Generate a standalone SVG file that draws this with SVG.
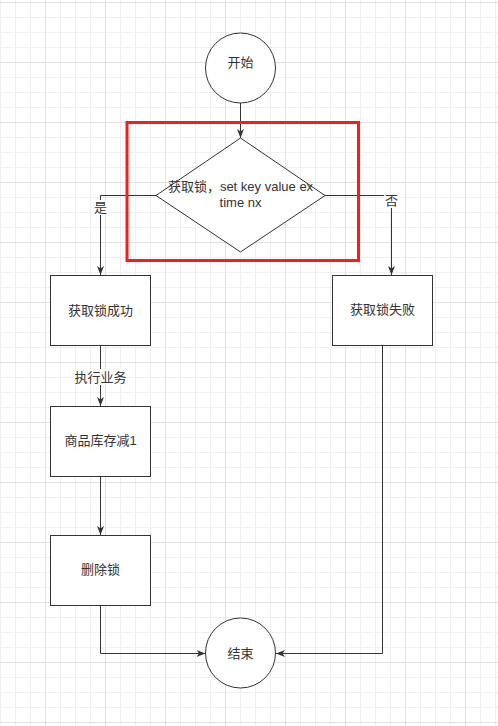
<svg xmlns="http://www.w3.org/2000/svg" width="498" height="726" viewBox="0 0 498 726">
<style>
.shape{fill:#ffffff;stroke:#333333;stroke-width:1}
.edge{fill:none;stroke:#333333;stroke-width:1}
.t{font-family:"Liberation Sans","Noto Sans CJK SC",sans-serif;font-size:13px;fill:#333333;text-anchor:middle}
.lblbg{fill:#ffffff}
</style>
<defs>
<pattern id="minor" width="15" height="15" patternUnits="userSpaceOnUse" x="0" y="2">
<path d="M0.5 0 V15 M0 0.5 H15" fill="none" stroke="#efefef" stroke-width="1"/>
</pattern>
<pattern id="major" width="60" height="60" patternUnits="userSpaceOnUse" x="45" y="2">
<path d="M0.5 0 V60 M0 0.5 H60" fill="none" stroke="#e2e2e2" stroke-width="1"/>
</pattern>
<marker id="arr" markerUnits="userSpaceOnUse" markerWidth="10" markerHeight="8" refX="9" refY="3.5" orient="auto" viewBox="0 0 10 8">
<path d="M0,0 L9,3.5 L0,7 L2.5,3.5 Z" fill="#333333" stroke="none"/>
</marker>
</defs>
<rect width="498" height="726" fill="#ffffff"/>
<rect width="498" height="726" fill="url(#minor)"/>
<rect width="498" height="726" fill="url(#major)"/>

<g id="connectors">
<path class="edge" d="M240.5 103 V138" marker-end="url(#arr)"/>
<path class="edge" d="M156 195.5 H100.5 V275" marker-end="url(#arr)"/>
<path class="edge" d="M325 195.5 H391.5 V275" marker-end="url(#arr)"/>
<path class="edge" d="M100.5 345 V406" marker-end="url(#arr)"/>
<path class="edge" d="M100.5 476 V535" marker-end="url(#arr)"/>
<path class="edge" d="M100.5 605 V653.5 H205.5" marker-end="url(#arr)"/>
<path class="edge" d="M382.5 345 V653.5 H276" marker-end="url(#arr)"/>
<rect class="lblbg" x="93" y="200" width="15" height="15"/>
<text class="t" x="100.5" y="212">是</text>
<rect class="lblbg" x="384" y="193" width="15" height="15"/>
<text class="t" x="391.5" y="205">否</text>
<rect class="lblbg" x="73" y="369" width="55" height="16"/>
<text class="t" x="100.5" y="381.5">执行业务</text>
</g>

<g id="highlight">
<rect x="127" y="122.5" width="231.5" height="138" fill="none" stroke="#ff1a1a" stroke-width="3"/>
</g>

<g id="start">
<circle class="shape" cx="240.5" cy="68" r="35"/>
<text class="t" x="240.5" y="66.5">开始</text>
</g>

<g id="decision">
<polygon class="shape" points="240.5,138 325,195.5 240.5,252 156,195.5"/>
<text class="t" x="240.5" y="190.5">获取锁，set key value ex</text>
<text class="t" x="240.5" y="207">time nx</text>
</g>

<g id="success">
<rect class="shape" x="50.5" y="275.5" width="100" height="70"/>
<text class="t" x="100.5" y="314.5">获取锁成功</text>
</g>

<g id="fail">
<rect class="shape" x="332.5" y="275.5" width="100" height="70"/>
<text class="t" x="382.5" y="314">获取锁失败</text>
</g>

<g id="decrease">
<rect class="shape" x="50.5" y="406.5" width="100" height="70"/>
<text class="t" x="100.5" y="445">商品库存减1</text>
</g>

<g id="unlock">
<rect class="shape" x="50.5" y="535.5" width="100" height="70"/>
<text class="t" x="100.5" y="574">删除锁</text>
</g>

<g id="end">
<circle class="shape" cx="240.5" cy="653" r="35"/>
<text class="t" x="240.5" y="657.5">结束</text>
</g>
</svg>
